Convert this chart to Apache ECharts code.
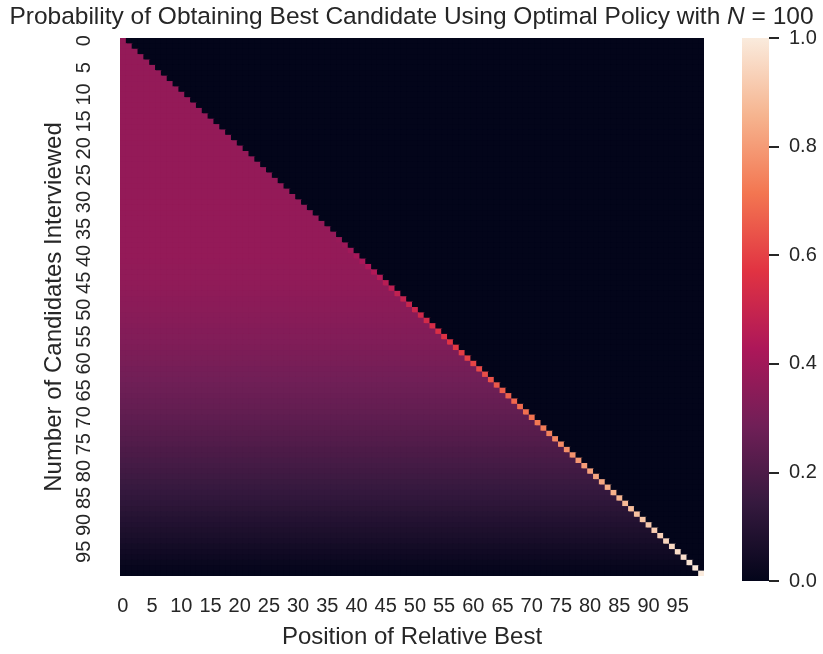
<!DOCTYPE html>
<html>
<head>
<meta charset="utf-8">
<script src="https://cdn.jsdelivr.net/npm/echarts@6/dist/echarts.min.js"></script>
<style>
html,body{margin:0;padding:0;background:#fff;}
#chart{width:823px;height:654px;}
</style>
</head>
<body>
<div id="chart"></div>
<script>
// Categories (row = candidates interviewed, column = position of relative best)
const positions = Array.from({length: 100}, (_, i) => String(i));

// Probability when the relative best is an earlier candidate (cells left of the diagonal), per row
const contProb = [
  0.371,0.371,0.371,0.371,0.371,0.371,0.371,0.371,0.371,0.371,
  0.371,0.371,0.371,0.371,0.371,0.371,0.371,0.371,0.371,0.371,
  0.371,0.371,0.371,0.371,0.371,0.371,0.371,0.371,0.371,0.371,
  0.371,0.371,0.371,0.371,0.371,0.371,0.371,0.371,0.370,0.370,
  0.369,0.367,0.366,0.364,0.362,0.360,0.358,0.355,0.352,0.349,
  0.346,0.343,0.339,0.335,0.331,0.327,0.323,0.318,0.313,0.309,
  0.304,0.298,0.293,0.287,0.282,0.276,0.270,0.264,0.258,0.251,
  0.245,0.238,0.231,0.224,0.217,0.210,0.202,0.195,0.187,0.180,
  0.172,0.164,0.156,0.147,0.139,0.130,0.122,0.113,0.104,0.095,
  0.086,0.077,0.068,0.059,0.049,0.039,0.030,0.020,0.010,0.000
];

// Probability when the current candidate is the relative best (diagonal cells), per row
const diagProb = [
  0.371,0.371,0.371,0.371,0.371,0.371,0.371,0.371,0.371,0.371,
  0.371,0.371,0.371,0.371,0.371,0.371,0.371,0.371,0.371,0.371,
  0.371,0.371,0.371,0.371,0.371,0.371,0.371,0.371,0.371,0.371,
  0.371,0.371,0.371,0.371,0.371,0.371,0.371,0.38,0.39,0.40,
  0.41,0.42,0.43,0.44,0.45,0.46,0.47,0.48,0.49,0.50,
  0.51,0.52,0.53,0.54,0.55,0.56,0.57,0.58,0.59,0.60,
  0.61,0.62,0.63,0.64,0.65,0.66,0.67,0.68,0.69,0.70,
  0.71,0.72,0.73,0.74,0.75,0.76,0.77,0.78,0.79,0.80,
  0.81,0.82,0.83,0.84,0.85,0.86,0.87,0.88,0.89,0.90,
  0.91,0.92,0.93,0.94,0.95,0.96,0.97,0.98,0.99,1.00
];

// Value of cells right of the diagonal (relative best not yet seen)
const emptyProb = 0;

// Colour bar tick labels
const colorbarMin = 0, colorbarMax = 1, colorbarStep = 0.2;

// seaborn "rocket" colormap stops
const rocket = ['#03051A','#35193E','#701F57','#AD1759','#E13342','#F37651','#F6B48F','#FAEBDD'];

const cells = [];
for (let i = 0; i < positions.length; i++) {
  for (let j = 0; j < positions.length; j++) {
    let v;
    if (j < i) v = contProb[i];
    else if (j === i) v = diagProb[i];
    else v = emptyProb;
    cells.push([j, i, v]);
  }
}

const FONT = '"Liberation Sans", Arial, Helvetica, sans-serif';
const TXT = '#262626';

const gradStops = rocket.map((c, k) => ({offset: 1 - k / (rocket.length - 1), color: c})).reverse();

const chart = echarts.init(document.getElementById('chart'), null, {renderer: 'canvas'});
chart.setOption({
  animation: false,
  backgroundColor: '#ffffff',
  textStyle: {fontFamily: FONT, color: TXT},
  title: {
    text: 'Probability of Obtaining Best Candidate Using Optimal Policy with {i|N} = 100',
    left: 'center',
    top: 0,
    textStyle: {
      fontFamily: FONT, fontSize: 24.5, fontWeight: 'normal', color: TXT,
      rich: {i: {fontFamily: FONT, fontSize: 24.5, fontStyle: 'italic', color: TXT}}
    }
  },
  grid: [
    {left: 120, top: 38, width: 584, height: 543},
    {left: 742, top: 38, width: 27, height: 543}
  ],
  xAxis: [
    {
      type: 'category', gridIndex: 0, data: positions,
      name: 'Position of Relative Best', nameLocation: 'middle', nameGap: 49,
      nameTextStyle: {fontFamily: FONT, fontSize: 24, color: TXT},
      axisLine: {show: false}, axisTick: {show: false}, splitArea: {show: false},
      axisLabel: {interval: 4, fontFamily: FONT, fontSize: 20, color: TXT, margin: 20}
    },
    {type: 'category', gridIndex: 1, data: [''], show: false}
  ],
  yAxis: [
    {
      type: 'category', gridIndex: 0, data: positions, inverse: true,
      name: 'Number of Candidates Interviewed', nameLocation: 'middle', nameGap: 51,
      nameTextStyle: {fontFamily: FONT, fontSize: 24, color: TXT},
      axisLine: {show: false}, axisTick: {show: false}, splitArea: {show: false},
      axisLabel: {interval: 4, rotate: 90, fontFamily: FONT, fontSize: 20, color: TXT, margin: 26}
    },
    {
      type: 'value', gridIndex: 1, position: 'right',
      min: colorbarMin, max: colorbarMax, interval: colorbarStep,
      axisLine: {show: false}, splitLine: {show: false},
      axisTick: {show: true, length: 10, lineStyle: {color: TXT, width: 2}},
      axisLabel: {fontFamily: FONT, fontSize: 20, color: TXT, margin: 20,
        formatter: v => v.toFixed(1)}
    }
  ],
  visualMap: {
    type: 'continuous', show: false, min: 0, max: 1, seriesIndex: 0, dimension: 2,
    inRange: {color: rocket}
  },
  series: [
    {
      type: 'custom', xAxisIndex: 0, yAxisIndex: 0, data: cells,
      encode: {x: 0, y: 1}, clip: true, silent: true, progressive: 0,
      renderItem: function (params, api) {
        const p = api.coord([api.value(0), api.value(1)]);
        const s = api.size([1, 1]);
        return {
          type: 'rect',
          shape: {x: p[0] - s[0] / 2, y: p[1] - s[1] / 2, width: s[0] + 1, height: s[1] + 1},
          style: {fill: api.visual('color')}
        };
      }
    },
    {
      type: 'bar', xAxisIndex: 1, yAxisIndex: 1, data: [colorbarMax],
      barWidth: '100%', silent: true,
      itemStyle: {color: new echarts.graphic.LinearGradient(0, 0, 0, 1, gradStops)}
    }
  ]
});
</script>
</body>
</html>
